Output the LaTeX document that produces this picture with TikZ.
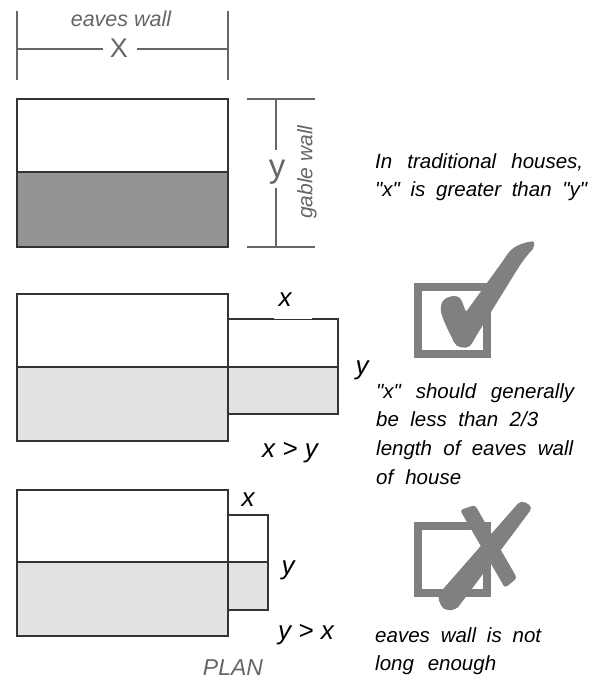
\documentclass[tikz,border=0pt]{standalone}
\usepackage{fontspec}
\setmainfont{Liberation Sans}[Ligatures=TeXOff]
\definecolor{inkc}{HTML}{333333}
\definecolor{softc}{HTML}{666666}
\definecolor{iconc}{HTML}{808080}
\definecolor{darkc}{HTML}{949494}
\definecolor{lightc}{HTML}{E2E2E2}
\newcommand{\noteline}[2]{\makebox[#1pt][s]{#2}}
\tikzset{
  wall/.style={draw=inkc,line width=2.2pt},
  dim/.style={draw=softc,line width=1.3pt},
  lab/.style={inner sep=0pt,font=\itshape\fontsize{26}{30}\selectfont,text=black},
  note/.style={inner sep=0pt,font=\itshape\fontsize{20.5}{28.7}\selectfont,text=black,align=left,anchor=north west},
  soft lab/.style={inner sep=0pt,text=softc},
}
\begin{document}
\begin{tikzpicture}[x=1pt,y=-1pt]
\useasboundingbox (0,0) rectangle (602,682);
% dimension x
\coordinate (xa) at (17,11); \coordinate (xb) at (17,80);
\coordinate (xc) at (228,11); \coordinate (xd) at (228,80);
\draw[dim] (xa) -- (xb); \draw[dim] (xc) -- (xd);
\node[soft lab,font=\itshape\fontsize{21.5}{24}\selectfont] (eaves) at (121,19) {eaves wall};
\node[soft lab,font=\fontsize{27}{30}\selectfont] (xl) at (119,48) {X};
\coordinate (xl1) at (17,49); \coordinate (xl2) at (228,49);
\draw[dim] (xl1) -- (103,49); \draw[dim] (137,49) -- (xl2);
% dimension y
\coordinate (ya) at (247,99); \coordinate (yb) at (315,99);
\coordinate (yc) at (247,247); \coordinate (yd) at (315,247);
\draw[dim] (ya) -- (yb); \draw[dim] (yc) -- (yd);
\node[soft lab,font=\fontsize{33}{36}\selectfont] (yl) at (277,172) {y};
\draw[dim] (276,99) -- (276,150); \draw[dim] (276,188) -- (276,247);
\node[soft lab,font=\itshape\fontsize{21}{24}\selectfont,rotate=90] (gable) at (307,172) {gable wall};
% top house
\fill[darkc] (17,172) rectangle (228,247);
\draw[wall] (17,99) rectangle (228,247);
\draw[wall] (17,172) -- (228,172);
% middle house
\fill[lightc] (17,367) rectangle (228,441);
\fill[lightc] (228,367) rectangle (338,414);
\draw[wall] (17,294) rectangle (228,441);
\draw[wall] (17,367) -- (338,367);
\draw[wall] (228,319) -| (338,414) -- (228,414);
\draw[white,line width=2.4pt] (274,317.4) -- (312,317.4);
% lower house
\fill[lightc] (17,562) rectangle (228,636);
\fill[lightc] (228,562) rectangle (268,610);
\draw[wall] (17,490) rectangle (228,636);
\draw[wall] (17,562) -- (268,562);
\draw[wall] (228,515) -| (268,610) -- (228,610);
% labels
\node[lab] (x1) at (285,300) {x};
\node[lab] (y1) at (362,370) {y};
\node[lab] (c1) at (290,453) {x > y};
\node[lab] (x2) at (248,500) {x};
\node[lab] (y2) at (288,570) {y};
\node[lab] (c2) at (306,635) {y > x};
\node[soft lab,font=\itshape\fontsize{23}{26}\selectfont] (plan) at (233,668) {PLAN};
% notes
\node[note] (n1) at (375,153) {\noteline{208}{In traditional houses,}\\\noteline{212}{"x" is greater than "y"}};
\node[note] (n2) at (376,383) {\noteline{198}{"x" should generally}\\\noteline{162}{be less than 2/3}\\\noteline{197}{length of eaves wall}\\\noteline{85}{of house}};
\node[note] (n3) at (375,627) {\noteline{166}{eaves wall is not}\\\noteline{121}{long enough}};
% check box
\draw[iconc,line width=8pt] (418,287) rectangle (487,354);
\fill[iconc,rounded corners=2pt] (534,241) .. controls (522,243) and (512,246) .. (505,258)
  -- (466,312) -- (461,299) .. controls (455,294) and (443,297) .. (441,306)
  .. controls (440,314) and (447,328) .. (453,340)
  .. controls (456,348) and (466,349) .. (471,345)
  -- (478,333) -- (517,270) .. controls (522,262) and (528,254) .. (534,248) -- cycle;
% crossed box
\draw[iconc,line width=8pt] (418,526) rectangle (487,593);
\fill[iconc,rounded corners=5pt] (437,596) -- (521,500) -- (533,507) -- (456,610) -- (443,610) -- cycle;
\fill[iconc,rounded corners=3pt] (460,510) -- (475,505) -- (517,578) -- (505,588) -- cycle;
\end{tikzpicture}
\end{document}
